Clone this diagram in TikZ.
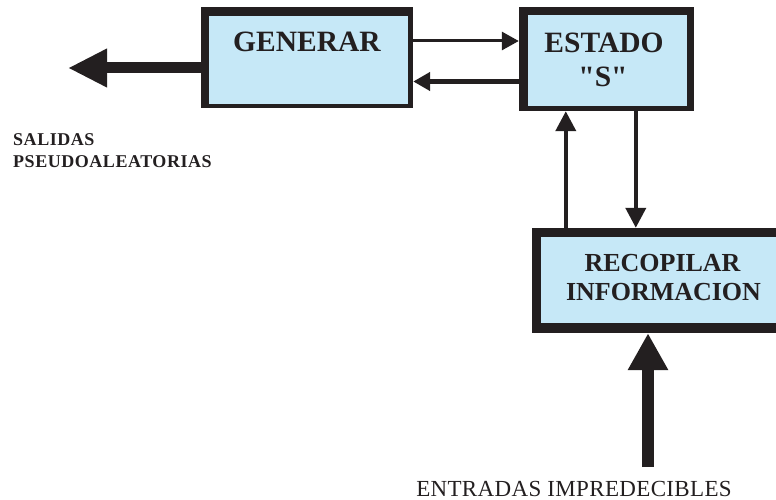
\documentclass[tikz,border=0pt]{standalone}
\usepackage{fontspec}
\setmainfont{Liberation Serif}
\usetikzlibrary{arrows.meta}
\definecolor{boxblue}{HTML}{C6E8F7}
\definecolor{ink}{HTML}{231F20}
\tikzset{
  outerbox/.style={rectangle, fill=ink, draw=none, inner sep=0pt},
  boxtext/.style={inner sep=0pt, text=ink, font=\bfseries\fontsize{29.5}{31}\selectfont},
  rectext/.style={inner sep=0pt, text=ink, font=\bfseries\fontsize{26}{28}\selectfont},
  harrow/.style={draw=ink, -{Triangle[length=17pt,width=18pt]}},
  varrow/.style={draw=ink, line width=4pt, -{Triangle[length=20pt,width=20pt]}},
  bigarrowL/.style={draw=ink, line width=11pt, -{Triangle[length=39pt,width=36pt]}},
  bigarrowU/.style={draw=ink, line width=12pt, -{Triangle[length=37pt,width=38pt]}}
}
\begin{document}
\begin{tikzpicture}[x=1pt,y=-1pt]
\useasboundingbox (0,0) rectangle (776,500);
% GENERAR
\node[outerbox, minimum width=212pt, minimum height=101pt] (gen) at (307,57.5) {};
\fill[boxblue] ([shift={(8pt,-9pt)}]gen.north west) rectangle ([shift={(-5pt,4pt)}]gen.south east);
\node[boxtext] (tgen) at (307,42) {GENERAR};
% ESTADO
\node[outerbox, minimum width=175pt, minimum height=104pt] (est) at (606.5,59) {};
\fill[boxblue] ([shift={(9pt,-8pt)}]est.north west) rectangle ([shift={(-7pt,5pt)}]est.south east);
\node[boxtext] (test) at (604,43) {ESTADO};
\node[boxtext] (tess) at (603,77) {\addfontfeature{Ligatures=TeXOff}"S"};
% RECOPILAR
\node[outerbox, minimum width=250pt, minimum height=105pt] (rec) at (657,280.5) {};
\fill[boxblue] ([shift={(9pt,-9pt)}]rec.north west) rectangle ([shift={(-6pt,10pt)}]rec.south east);
\node[rectext] (trec1) at (662.5,263) {RECOPILAR};
\node[rectext] (trec2) at (663.5,292) {INFORMACION};
% thin connectors
\draw[harrow, line width=3pt] ([yshift=16.5pt]gen.east) -- ([yshift=16.5pt]gen.east -| est.west);
\draw[harrow, line width=5pt] ([yshift=-22.5pt]est.west) -- ([yshift=-22.5pt]est.west -| gen.east);
\draw[varrow] ([xshift=34pt]rec.north west) -- ([xshift=34pt]rec.north west |- est.south);
\draw[varrow] ([xshift=104pt]rec.north west |- est.south) -- ([xshift=104pt]rec.north west);
% thick arrows
\coordinate (sal) at (68,68);
\draw[bigarrowL] (gen.west |- sal) -- (sal);
\coordinate (ent) at (648,467);
\draw[bigarrowU] (ent) -- (ent |- rec.south);
% labels
\node[anchor=west, align=left, inner sep=0pt, text=ink, font=\bfseries\fontsize{18}{22}\selectfont\addfontfeature{LetterSpace=3}] (lsal) at (13,151) {SALIDAS\\PSEUDOALEATORIAS};
\node[anchor=base, inner sep=0pt, text=ink, font=\fontsize{23}{25}\selectfont\addfontfeature{LetterSpace=1.5}] (lent) at (574,496) {ENTRADAS IMPREDECIBLES};
\end{tikzpicture}
\end{document}
